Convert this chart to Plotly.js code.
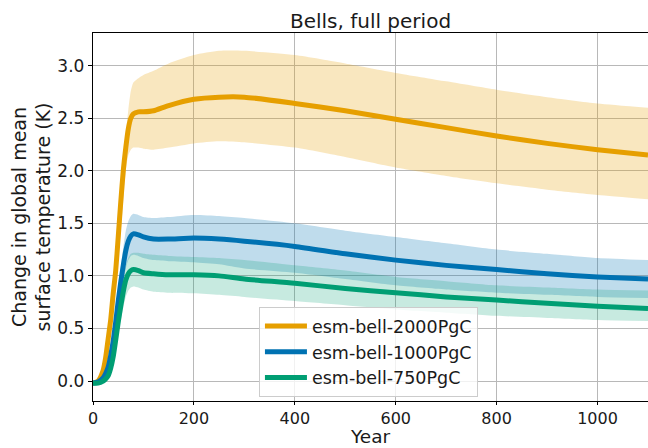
<!DOCTYPE html>
<html>
<head>
<meta charset="utf-8">
<script src="https://cdn.plot.ly/plotly-3.0.1.min.js"></script>
<style>html,body{margin:0;padding:0;background:#fff;}#chart{width:648px;height:448px;}</style>
</head>
<body>
<div id="chart"></div>
<script>
// Data
const years = [0,10,20,25,30,35,40,45,50,55,60,65,70,75,80,90,100,120,150,200,250,300,400,500,600,700,800,900,1000,1100];

const seriesNames = ["esm-bell-2000PgC", "esm-bell-1000PgC", "esm-bell-750PgC"];

const mean2000  = [-0.02,0.00,0.10,0.22,0.40,0.58,0.83,1.05,1.37,1.70,2.00,2.22,2.40,2.50,2.54,2.56,2.56,2.57,2.62,2.68,2.70,2.70,2.64,2.57,2.49,2.41,2.33,2.26,2.20,2.15];
const upper2000 = [-0.01,0.02,0.14,0.28,0.48,0.68,0.93,1.16,1.45,1.78,2.10,2.35,2.58,2.76,2.84,2.88,2.91,2.95,3.02,3.10,3.14,3.14,3.10,3.02,2.93,2.85,2.77,2.70,2.64,2.60];
const lower2000 = [-0.03,-0.02,0.06,0.15,0.30,0.46,0.68,0.88,1.15,1.42,1.72,2.00,2.15,2.20,2.22,2.22,2.21,2.20,2.22,2.26,2.28,2.27,2.22,2.13,2.03,1.95,1.88,1.82,1.77,1.73];

const mean1000  = [-0.02,-0.01,0.03,0.07,0.13,0.24,0.38,0.56,0.76,0.94,1.10,1.24,1.33,1.38,1.40,1.39,1.37,1.35,1.35,1.36,1.35,1.33,1.28,1.21,1.15,1.10,1.06,1.02,0.99,0.97];
const upper1000 = [-0.01,0.00,0.05,0.10,0.17,0.30,0.46,0.66,0.88,1.08,1.27,1.43,1.52,1.57,1.59,1.58,1.56,1.55,1.56,1.58,1.57,1.55,1.50,1.43,1.37,1.31,1.25,1.21,1.17,1.15];
const lower1000 = [-0.03,-0.02,0.01,0.04,0.09,0.18,0.30,0.46,0.62,0.80,0.95,1.07,1.15,1.19,1.20,1.19,1.17,1.15,1.14,1.13,1.11,1.07,1.03,0.97,0.91,0.87,0.84,0.82,0.80,0.79];

const mean750  = [-0.02,-0.02,0.00,0.02,0.05,0.12,0.23,0.39,0.56,0.71,0.85,0.96,1.02,1.05,1.06,1.05,1.03,1.02,1.01,1.01,1.00,0.97,0.93,0.88,0.84,0.80,0.77,0.74,0.71,0.69];
const upper750 = [-0.01,-0.01,0.02,0.04,0.08,0.16,0.29,0.47,0.65,0.82,0.98,1.10,1.17,1.21,1.22,1.22,1.21,1.20,1.19,1.18,1.17,1.15,1.10,1.05,0.99,0.95,0.91,0.89,0.87,0.86];
const lower750 = [-0.03,-0.03,-0.02,0.00,0.02,0.07,0.16,0.30,0.45,0.58,0.70,0.80,0.86,0.89,0.90,0.89,0.87,0.85,0.84,0.835,0.82,0.80,0.76,0.72,0.68,0.65,0.62,0.60,0.58,0.57];

const xTicks = [0,200,400,600,800,1000];
const yTicks = [0.0,0.5,1.0,1.5,2.0,2.5,3.0];

const colors = ["#E69F00", "#0072B2", "#009E73"];
const bandColors = ["rgba(230,159,0,0.25)", "rgba(0,114,178,0.25)", "rgba(0,158,115,0.22)"];

const means = [mean2000, mean1000, mean750];
const uppers = [upper2000, upper1000, upper750];
const lowers = [lower2000, lower1000, lower750];

const traces = [];
for (let i = 0; i < 3; i++) {
  traces.push({x: years, y: uppers[i], type: 'scatter', mode: 'lines',
    line: {width: 0, color: bandColors[i], shape: 'spline', smoothing: 0.6},
    showlegend: false, hoverinfo: 'skip'});
  traces.push({x: years, y: lowers[i], type: 'scatter', mode: 'lines',
    line: {width: 0, color: bandColors[i], shape: 'spline', smoothing: 0.6},
    fill: 'tonexty', fillcolor: bandColors[i], showlegend: false, hoverinfo: 'skip'});
}
for (let i = 0; i < 3; i++) {
  traces.push({x: years, y: means[i], type: 'scatter', mode: 'lines', name: seriesNames[i],
    line: {width: 5, color: colors[i], shape: 'spline', smoothing: 0.6}});
}

const font = "DejaVu Sans, sans-serif";
const plotTop = 33, plotBottom = 401;
const layout = {
  width: 648, height: 448,
  margin: {l: 93, r: 0, t: plotTop, b: 448 - plotBottom, pad: 0},
  paper_bgcolor: '#ffffff', plot_bgcolor: '#ffffff',
  font: {family: font, color: '#1a1a1a', size: 17},
  title: {text: 'Bells, full period', font: {family: font, size: 20, color: '#1a1a1a'},
    x: 0.5, xref: 'paper', xanchor: 'center', y: 1 - 21/448, yref: 'container', yanchor: 'middle'},
  xaxis: {range: [0, 1100], tickvals: xTicks, ticktext: xTicks.map(String),
    showgrid: true, gridcolor: '#b8b8b8', gridwidth: 1,
    showline: true, linecolor: '#000', linewidth: 1.2, mirror: true,
    ticks: 'outside', ticklen: 3, tickcolor: '#000', tickwidth: 1,
    zeroline: false, tickfont: {size: 16, family: font}},
  yaxis: {range: [-0.19, 3.31], tickvals: yTicks, ticktext: yTicks.map(v => v.toFixed(1)),
    showgrid: true, gridcolor: '#b8b8b8', gridwidth: 1,
    showline: true, linecolor: '#000', linewidth: 1.2, mirror: false,
    ticks: 'outside', ticklen: 4, tickcolor: '#000', tickwidth: 1,
    zeroline: false, tickfont: {size: 17, family: font},
    title: {text: 'Change in global mean<br>surface temperature (K)', font: {size: 19, family: font}, standoff: 1}},
  annotations: [{text: 'Year', xref: 'paper', yref: 'paper', x: 0.5, xanchor: 'center',
    y: -(436 - plotBottom) / (plotBottom - plotTop), yanchor: 'middle', showarrow: false,
    font: {size: 18.5, family: font, color: '#1a1a1a'}}],
  legend: {x: 0.299, y: 0.255, xanchor: 'left', yanchor: 'top', traceorder: 'normal',
    bgcolor: 'rgba(255,255,255,0.8)', bordercolor: '#cccccc', borderwidth: 1,
    itemwidth: 42,
    font: {size: 17.5, family: font, color: '#1a1a1a'}, tracegroupgap: 0},
  showlegend: true
};

Plotly.newPlot('chart', traces, layout, {staticPlot: true, displayModeBar: false});
</script>
</body>
</html>
